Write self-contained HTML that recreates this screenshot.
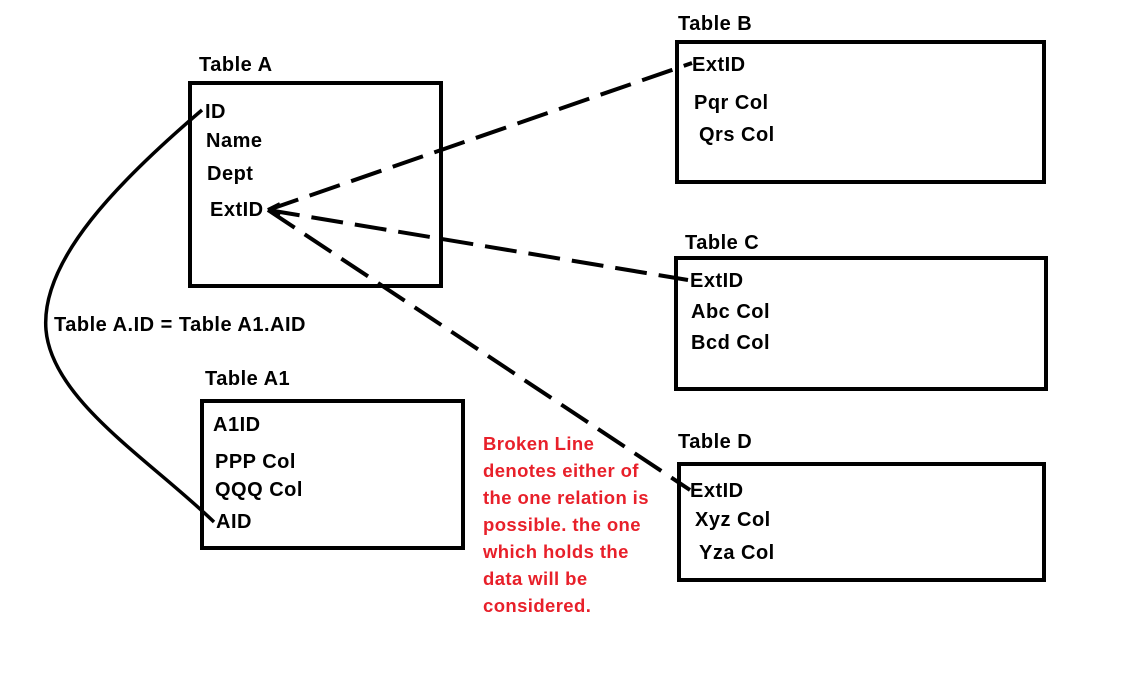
<!DOCTYPE html>
<html><head><meta charset="utf-8"><style>
html,body{margin:0;padding:0;background:#fff;}
svg{display:block}
text{font-family:"Liberation Sans",sans-serif;font-weight:bold;font-size:20px;letter-spacing:0.5px;fill:#000}
.r{fill:#e8202a;font-size:18.5px;letter-spacing:0.4px}
</style></head><body>
<svg width="1146" height="690" xmlns="http://www.w3.org/2000/svg">
<g fill="none" stroke="#000" stroke-width="4">
<rect x="190" y="83" width="251" height="203"/>
<rect x="202" y="401" width="261" height="147"/>
<rect x="677" y="42" width="367" height="140"/>
<rect x="676" y="258" width="370" height="131"/>
<rect x="679" y="464" width="365" height="116"/>
</g>
<g fill="none" stroke="#000" stroke-width="4" stroke-dasharray="32,12">
<path d="M268,210 L692,63"/>
<path d="M268,210 L688,280"/>
<path d="M268,210 L690,490"/>
</g>
<path d="M268,210 l12,-6 M268,210 l12,5" stroke="#000" stroke-width="4" fill="none"/>
<path d="M202,110 C120,180 40,260 46,330 C52,400 150,460 214,522" fill="none" stroke="#000" stroke-width="3.5"/>
<text x="199" y="71">Table A</text>
<text x="205" y="118">ID</text>
<text x="206" y="147">Name</text>
<text x="207" y="180">Dept</text>
<text x="210" y="216">ExtID</text>
<text x="54" y="331">Table A.ID = Table A1.AID</text>
<text x="205" y="385">Table A1</text>
<text x="213" y="431">A1ID</text>
<text x="215" y="468">PPP Col</text>
<text x="215" y="496">QQQ Col</text>
<text x="216" y="528">AID</text>
<text x="678" y="30">Table B</text>
<text x="692" y="71">ExtID</text>
<text x="694" y="109">Pqr Col</text>
<text x="699" y="141">Qrs Col</text>
<text x="685" y="249">Table C</text>
<text x="690" y="287">ExtID</text>
<text x="691" y="318">Abc Col</text>
<text x="691" y="349">Bcd Col</text>
<text x="678" y="448">Table D</text>
<text x="690" y="497">ExtID</text>
<text x="695" y="526">Xyz Col</text>
<text x="699" y="559">Yza Col</text>
<text class="r" x="483" y="450">Broken Line</text>
<text class="r" x="483" y="477">denotes either of</text>
<text class="r" x="483" y="504">the one relation is</text>
<text class="r" x="483" y="531">possible. the one</text>
<text class="r" x="483" y="558">which holds the</text>
<text class="r" x="483" y="585">data will be</text>
<text class="r" x="483" y="612">considered.</text>
</svg>
</body></html>
